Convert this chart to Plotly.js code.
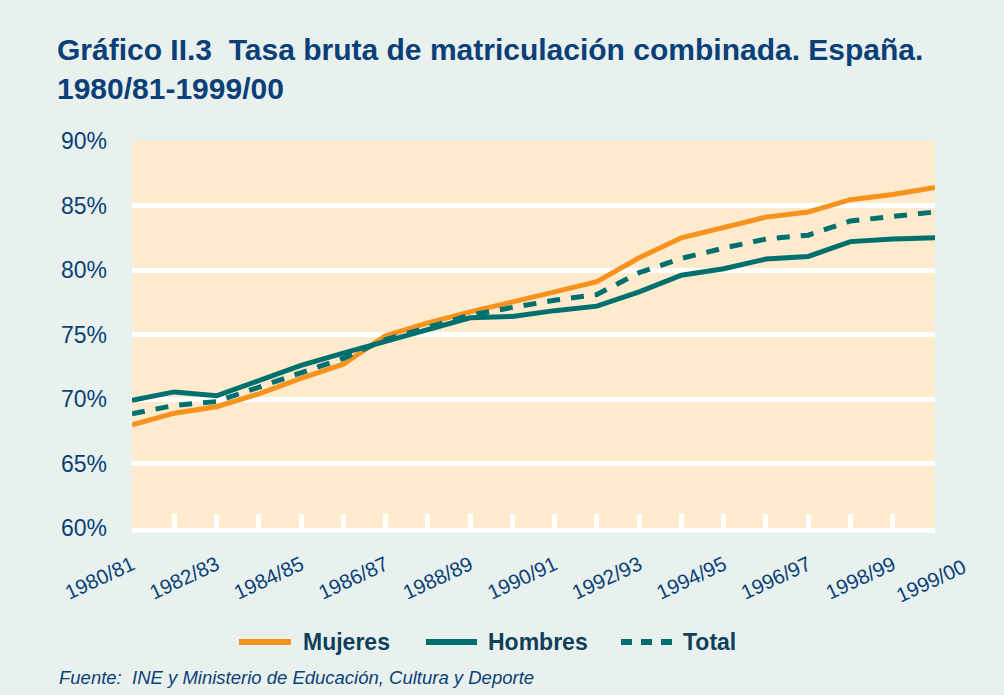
<!DOCTYPE html>
<html>
<head>
<meta charset="utf-8">
<script src="https://cdn.plot.ly/plotly-3.0.1.min.js"></script>
<style>html,body{margin:0;padding:0;background:#E8F1EE;}#chart{width:1004px;height:695px;}</style>
</head>
<body>
<div id="chart"></div>
<script>
const cursos = ["1980/81","1981/82","1982/83","1983/84","1984/85","1985/86","1986/87","1987/88","1988/89","1989/90",
                "1990/91","1991/92","1992/93","1993/94","1994/95","1995/96","1996/97","1997/98","1998/99","1999/00"];
const mujeres = [68.0,68.9,69.4,70.4,71.6,72.7,74.9,75.9,76.75,77.5,78.3,79.1,80.95,82.5,83.3,84.1,84.5,85.45,85.85,86.4];
const hombres = [69.9,70.55,70.25,71.45,72.6,73.55,74.45,75.45,76.3,76.4,76.85,77.2,78.3,79.6,80.1,80.85,81.05,82.2,82.4,82.5];
const total   = [68.85,69.5,69.8,70.95,72.1,73.15,74.6,75.6,76.5,77.1,77.65,78.1,79.8,80.9,81.7,82.4,82.7,83.8,84.15,84.5];
const yTicks = [60,65,70,75,80,85,90];
const yTickText = ["60%","65%","70%","75%","80%","85%","90%"];
const seriesNames = ["Mujeres","Hombres","Total"];

const ORANGE = "#F7921E", TEAL = "#00706E", NAVY = "#0B3F78", DARK = "#0F3F5A";
const BG = "#E8F1EE", PLOTBG = "#FEEBCD";
const W = 1004, H = 695, L = 132, R = 935, T = 141, B = 528;
const px = x => (x - L) / (R - L);
const py = y => (B - y) / (B - T);

const idx = cursos.map((c, i) => i);
const labelText = cursos.map((c, i) => (i % 2 === 0 && i < cursos.length - 1) ? c : "");

const traces = [
  {x: idx, y: mujeres, name: seriesNames[0], mode: "lines", line: {color: ORANGE, width: 5}, showlegend: false},
  {x: idx, y: hombres, name: seriesNames[1], mode: "lines", line: {color: TEAL, width: 5}, showlegend: false},
  {x: idx, y: total, name: seriesNames[2], mode: "lines", line: {color: TEAL, width: 5, dash: "13px,11px"}, showlegend: false}
];

const legY = py(642);
const shapes = [
  {type: "line", xref: "paper", yref: "paper", x0: px(239), x1: px(291), y0: legY, y1: legY, line: {color: ORANGE, width: 6}},
  {type: "line", xref: "paper", yref: "paper", x0: px(426), x1: px(477), y0: legY, y1: legY, line: {color: TEAL, width: 6}},
  {type: "line", xref: "paper", yref: "paper", x0: px(621), x1: px(673), y0: legY, y1: legY, line: {color: TEAL, width: 6, dash: "11px,9px"}}
];
const legFont = {family: "Liberation Sans, Arial", size: 23, color: DARK};
const annotations = [
  {xref: "paper", yref: "paper", x: px(301), y: legY, xanchor: "left", yanchor: "middle", showarrow: false, text: "<b>" + seriesNames[0] + "</b>", font: legFont},
  {xref: "paper", yref: "paper", x: px(486), y: legY, xanchor: "left", yanchor: "middle", showarrow: false, text: "<b>" + seriesNames[1] + "</b>", font: legFont},
  {xref: "paper", yref: "paper", x: px(681), y: legY, xanchor: "left", yanchor: "middle", showarrow: false, text: "<b>" + seriesNames[2] + "</b>", font: legFont},
  {xref: "paper", yref: "paper", x: px(972), y: py(552), xanchor: "right", yanchor: "top", showarrow: false, textangle: -25,
   text: cursos[cursos.length - 1], font: {family: "Liberation Sans, Arial", size: 20.5, color: NAVY}},
  {xref: "paper", yref: "paper", x: px(57), y: py(677), xanchor: "left", yanchor: "middle", showarrow: false,
   text: "<i>Fuente:\u00a0 INE y Ministerio de Educación, Cultura y Deporte</i>", font: {family: "Liberation Sans, Arial", size: 18.5, color: NAVY}}
];

const layout = {
  width: W, height: H,
  paper_bgcolor: BG, plot_bgcolor: PLOTBG,
  margin: {l: L, r: W - R, t: T, b: H - B},
  title: {
    text: "<b>Gráfico II.3\u00a0 Tasa bruta de matriculación combinada. España.<br>1980/81-1999/00</b>",
    x: 57 / W, xref: "container", xanchor: "left",
    y: 1 - 60 / H, yref: "container", yanchor: "top",
    font: {family: "Liberation Sans, Arial", size: 30, color: NAVY}
  },
  xaxis: {
    range: [0, cursos.length - 1],
    tickmode: "array", tickvals: idx, ticktext: labelText,
    ticks: "inside", ticklen: 14, tickwidth: 5, tickcolor: "#FFFFFF",
    showline: true, linecolor: "#FFFFFF", linewidth: 5,
    showgrid: false, zeroline: false,
    tickangle: -25, ticklabelstandoff: 12,
    tickfont: {family: "Liberation Sans, Arial", size: 20.5, color: NAVY}
  },
  yaxis: {
    range: [60, 90],
    tickmode: "array", tickvals: yTicks, ticktext: yTickText,
    showgrid: true, gridcolor: "#FFFFFF", gridwidth: 5,
    zeroline: false, showline: false, ticks: "",
    ticklabelstandoff: 24,
    tickfont: {family: "Liberation Sans, Arial", size: 23, color: NAVY}
  },
  shapes: shapes,
  annotations: annotations,
  showlegend: false
};

Plotly.newPlot("chart", traces, layout, {displayModeBar: false, staticPlot: true});
</script>
</body>
</html>
